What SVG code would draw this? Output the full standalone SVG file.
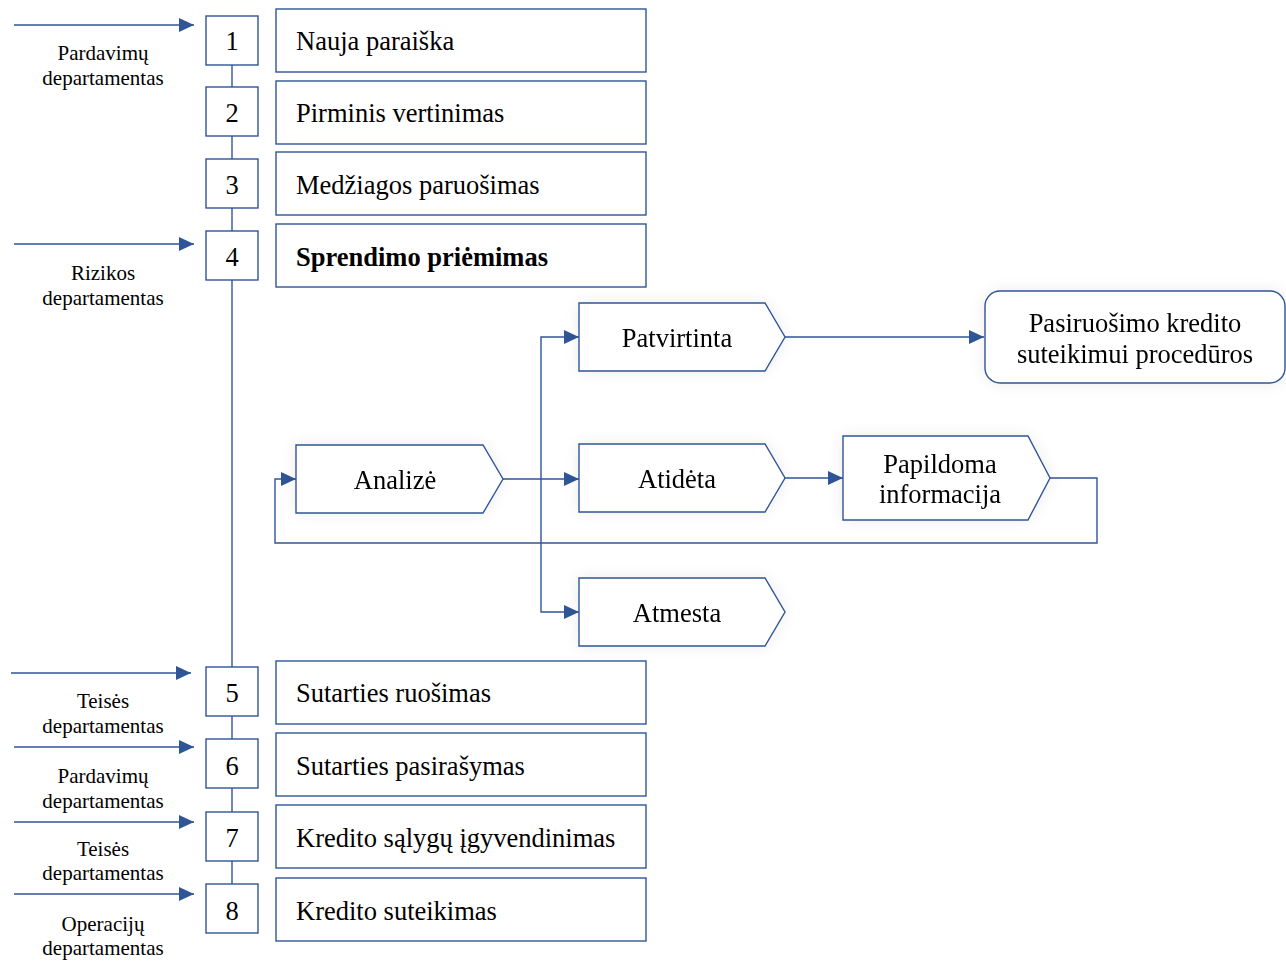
<svg xmlns="http://www.w3.org/2000/svg" width="1286" height="961" viewBox="0 0 1286 961">
  <style>
    .box { fill: #ffffff; stroke: #2f5597; stroke-width: 1.4; }
    .line { fill: none; stroke: #2f5597; stroke-width: 1.4; }
    .num { font-family: "Liberation Serif", serif; font-size: 26.5px; fill: #000; text-anchor: middle; }
    .step { font-family: "Liberation Serif", serif; font-size: 26.5px; fill: #000; }
    .dept { font-family: "Liberation Serif", serif; font-size: 21px; fill: #000; text-anchor: middle; }
    .lbl { font-family: "Liberation Serif", serif; font-size: 26.5px; fill: #000; text-anchor: middle; }
    .soft { filter: url(#glow); }
  </style>
  <defs>
    <marker id="arr" viewBox="0 0 15 14" refX="15" refY="7" markerWidth="15" markerHeight="14" markerUnits="userSpaceOnUse" orient="auto">
      <path d="M0,0 L15,7 L0,14 Z" fill="#2f5597"/>
    </marker>
    <filter id="glow" x="-20%" y="-40%" width="140%" height="180%">
      <feGaussianBlur in="SourceAlpha" stdDeviation="8"/>
      <feComponentTransfer><feFuncA type="linear" slope="0.08"/></feComponentTransfer>
      <feMerge><feMergeNode/><feMergeNode in="SourceGraphic"/></feMerge>
    </filter>
  </defs>

  <rect width="1286" height="961" fill="#ffffff"/>

  <!-- connectors -->
  <g id="connectors">
    <!-- spine joining the numbered steps -->
    <line class="line" x1="232" y1="65" x2="232" y2="87"/>
    <line class="line" x1="232" y1="136" x2="232" y2="159"/>
    <line class="line" x1="232" y1="208" x2="232" y2="231"/>
    <line class="line" x1="232" y1="280" x2="232" y2="667"/>
    <line class="line" x1="232" y1="716" x2="232" y2="739"/>
    <line class="line" x1="232" y1="788" x2="232" y2="812"/>
    <line class="line" x1="232" y1="861" x2="232" y2="884"/>
    <!-- department inputs -->
    <line class="line" x1="14" y1="25" x2="194" y2="25" marker-end="url(#arr)"/>
    <line class="line" x1="14" y1="244" x2="194" y2="244" marker-end="url(#arr)"/>
    <line class="line" x1="11" y1="673" x2="191" y2="673" marker-end="url(#arr)"/>
    <line class="line" x1="14" y1="747" x2="194" y2="747" marker-end="url(#arr)"/>
    <line class="line" x1="14" y1="822" x2="194" y2="822" marker-end="url(#arr)"/>
    <line class="line" x1="14" y1="894" x2="194" y2="894" marker-end="url(#arr)"/>
    <!-- decision branches -->
    <line class="line" x1="503" y1="479" x2="579" y2="479" marker-end="url(#arr)"/>
    <polyline class="line" points="541,479 541,337 579,337" marker-end="url(#arr)"/>
    <polyline class="line" points="541,479 541,612 579,612" marker-end="url(#arr)"/>
    <line class="line" x1="785" y1="337" x2="984" y2="337" marker-end="url(#arr)"/>
    <line class="line" x1="785" y1="478" x2="843" y2="478" marker-end="url(#arr)"/>
    <!-- loop back to analysis -->
    <polyline class="line" points="1050,478 1097,478 1097,543 275,543 275,479 296,479" marker-end="url(#arr)"/>
  </g>

  <!-- department labels -->
  <g id="departments">
    <text class="dept" x="103" y="60">Pardavimų</text>
    <text class="dept" x="103" y="85">departamentas</text>
    <text class="dept" x="103" y="280">Rizikos</text>
    <text class="dept" x="103" y="305">departamentas</text>
    <text class="dept" x="103" y="708">Teisės</text>
    <text class="dept" x="103" y="733">departamentas</text>
    <text class="dept" x="103" y="783">Pardavimų</text>
    <text class="dept" x="103" y="808">departamentas</text>
    <text class="dept" x="103" y="856">Teisės</text>
    <text class="dept" x="103" y="880">departamentas</text>
    <text class="dept" x="103" y="931">Operacijų</text>
    <text class="dept" x="103" y="955">departamentas</text>
  </g>

  <!-- numbered steps -->
  <g id="step1">
    <rect class="box" x="206" y="16" width="52" height="49"/>
    <text class="num" x="232" y="50">1</text>
    <rect class="box" x="276" y="9" width="370" height="63"/>
    <text class="step" x="296" y="50">Nauja paraiška</text>
  </g>
  <g id="step2">
    <rect class="box" x="206" y="87" width="52" height="49"/>
    <text class="num" x="232" y="122">2</text>
    <rect class="box" x="276" y="81" width="370" height="63"/>
    <text class="step" x="296" y="122">Pirminis vertinimas</text>
  </g>
  <g id="step3">
    <rect class="box" x="206" y="159" width="52" height="49"/>
    <text class="num" x="232" y="194">3</text>
    <rect class="box" x="276" y="152" width="370" height="63"/>
    <text class="step" x="296" y="194">Medžiagos paruošimas</text>
  </g>
  <g id="step4">
    <rect class="box" x="206" y="231" width="52" height="49"/>
    <text class="num" x="232" y="266">4</text>
    <rect class="box" x="276" y="224" width="370" height="63"/>
    <text class="step" x="296" y="266" font-weight="bold">Sprendimo priėmimas</text>
  </g>
  <g id="step5">
    <rect class="box" x="206" y="667" width="52" height="49"/>
    <text class="num" x="232" y="702">5</text>
    <rect class="box" x="276" y="661" width="370" height="63"/>
    <text class="step" x="296" y="702">Sutarties ruošimas</text>
  </g>
  <g id="step6">
    <rect class="box" x="206" y="739" width="52" height="49"/>
    <text class="num" x="232" y="775">6</text>
    <rect class="box" x="276" y="733" width="370" height="63"/>
    <text class="step" x="296" y="775">Sutarties pasirašymas</text>
  </g>
  <g id="step7">
    <rect class="box" x="206" y="812" width="52" height="49"/>
    <text class="num" x="232" y="847">7</text>
    <rect class="box" x="276" y="805" width="370" height="63"/>
    <text class="step" x="296" y="847">Kredito sąlygų įgyvendinimas</text>
  </g>
  <g id="step8">
    <rect class="box" x="206" y="884" width="52" height="49"/>
    <text class="num" x="232" y="920">8</text>
    <rect class="box" x="276" y="878" width="370" height="63"/>
    <text class="step" x="296" y="920">Kredito suteikimas</text>
  </g>

  <!-- decision outcomes -->
  <g id="analize" class="soft">
    <polygon class="box" points="296,445 483,445 503,479 483,513 296,513"/>
    <text class="lbl" x="395" y="489">Analizė</text>
  </g>
  <g id="patvirtinta" class="soft">
    <polygon class="box" points="579,303 765,303 785,337 765,371 579,371"/>
    <text class="lbl" x="677" y="347">Patvirtinta</text>
  </g>
  <g id="atideta" class="soft">
    <polygon class="box" points="579,444 765,444 785,478 765,512 579,512"/>
    <text class="lbl" x="677" y="488">Atidėta</text>
  </g>
  <g id="atmesta" class="soft">
    <polygon class="box" points="579,578 765,578 785,612 765,646 579,646"/>
    <text class="lbl" x="677" y="622">Atmesta</text>
  </g>
  <g id="papildoma" class="soft">
    <polygon class="box" points="843,436 1028,436 1050,478 1028,520 843,520"/>
    <text class="lbl" x="940" y="473">Papildoma</text>
    <text class="lbl" x="940" y="503">informacija</text>
  </g>
  <g id="pasiruosimas" class="soft">
    <rect class="box" x="985" y="291" width="300" height="92" rx="15" ry="15"/>
    <text class="lbl" x="1135" y="332">Pasiruošimo kredito</text>
    <text class="lbl" x="1135" y="363">suteikimui procedūros</text>
  </g>
</svg>
